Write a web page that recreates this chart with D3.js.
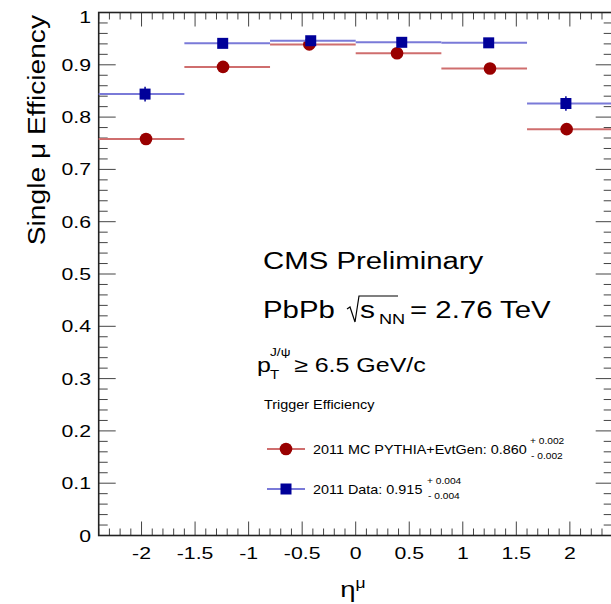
<!DOCTYPE html>
<html>
<head>
<meta charset="utf-8">
<script src="https://cdn.jsdelivr.net/npm/d3@7"></script>
<style>
  html, body { margin: 0; padding: 0; background: #fff; }
  svg { display: block; }
  text { font-family: "Liberation Sans", Arial, Helvetica, sans-serif; fill: #000; }
</style>
</head>
<body>
<svg id="chart" width="611" height="604"></svg>
<script>
// Pseudorapidity bins shared by both efficiency curves
const etaEdges = [-2.4, -1.6, -0.8, 0.0, 0.8, 1.6, 2.4];

// 2011 data (tag and probe), mean eta of each bin
const dataEta = [-1.967, -1.242, -0.420, 0.430, 1.242, 1.963];
const dataEff = [0.844, 0.941, 0.946, 0.943, 0.942, 0.826];
const dataErr = [0.014, 0.004, 0.004, 0.004, 0.004, 0.014];

// 2011 MC PYTHIA+EvtGen
const mcEta = [-1.958, -1.239, -0.433, 0.386, 1.254, 1.970];
const mcEff = [0.758, 0.896, 0.939, 0.922, 0.893, 0.777];
const mcErr = [0.003, 0.002, 0.002, 0.002, 0.002, 0.003];

// Axis ticks
const xMajor = [-2, -1.5, -1, -0.5, 0, 0.5, 1, 1.5, 2];
const xTickLabels = ["-2", "-1.5", "-1", "-0.5", "0", "0.5", "1", "1.5", "2"];
const yMajor = [0, 0.1, 0.2, 0.3, 0.4, 0.5, 0.6, 0.7, 0.8, 0.9, 1];
const yTickLabels = ["0", "0.1", "0.2", "0.3", "0.4", "0.5", "0.6", "0.7", "0.8", "0.9", "1"];

// Legend entries
const legendTitle = "Trigger Efficiency";
const legendMC = { text: "2011 MC PYTHIA+EvtGen: 0.860", up: "+ 0.002", down: "- 0.002" };
const legendData = { text: "2011 Data: 0.915", up: "+ 0.004", down: "- 0.004" };

const svg = d3.select("#chart");
const SX = 1.25; // horizontal stretch of the plot's typeface

const x = d3.scaleLinear().domain([-2.4, 2.4]).range([98.7, 612.7]);
const y = d3.scaleLinear().domain([0, 1]).range([535.5, 12.5]);

const blueLine = "#7a7ad8", blueMark = "#000099";
const redLine = "#cf6e6e", redMark = "#990000";

// text helper with horizontal stretch
function label(g, px, py, str, size, anchor, sx) {
  return g.append("text")
    .attr("transform", `translate(${px},${py}) scale(${sx || SX},1)`)
    .attr("font-size", size)
    .attr("text-anchor", anchor || "start")
    .text(str);
}

// ---- axes: ticks on all four sides
const axisG = svg.append("g");
const xMinor = d3.range(-24, 25).map(v => v / 10);
const yMinor = d3.range(0, 51).map(v => v / 50);

function isMajorX(v) { return Math.abs(v * 2 - Math.round(v * 2)) < 1e-6; }
function isMajorY(v) { return Math.abs(v * 10 - Math.round(v * 10)) < 1e-6; }

xMinor.forEach(v => {
  const len = isMajorX(v) ? 14 : 7;
  axisG.append("line").attr("x1", x(v)).attr("x2", x(v))
    .attr("y1", y(0)).attr("y2", y(0) - len).attr("stroke", "#444").attr("stroke-width", 1);
  axisG.append("line").attr("x1", x(v)).attr("x2", x(v))
    .attr("y1", y(1)).attr("y2", y(1) + len).attr("stroke", "#444").attr("stroke-width", 1);
});
yMinor.forEach(v => {
  const len = isMajorY(v) ? 17 : 9;
  axisG.append("line").attr("x1", x(-2.4)).attr("x2", x(-2.4) + len)
    .attr("y1", y(v)).attr("y2", y(v)).attr("stroke", "#444").attr("stroke-width", 1);
  axisG.append("line").attr("x1", x(2.4)).attr("x2", x(2.4) - len)
    .attr("y1", y(v)).attr("y2", y(v)).attr("stroke", "#444").attr("stroke-width", 1);
});
// frame
axisG.append("rect")
  .attr("x", x(-2.4)).attr("y", y(1))
  .attr("width", x(2.4) - x(-2.4)).attr("height", y(0) - y(1))
  .attr("fill", "none").attr("stroke", "#222").attr("stroke-width", 1.6);

// tick labels
xMajor.forEach((v, i) => label(axisG, x(v), 559, xTickLabels[i], 17, "middle"));
yMajor.forEach((v, i) => {
  const off = v === 1 ? 4 : 0;
  label(axisG, 91, y(v) + 6 + off, yTickLabels[i], 17, "end");
});

// axis titles
const xt = axisG.append("text")
  .attr("transform", `translate(353,597) scale(${SX},1)`)
  .attr("text-anchor", "middle").attr("font-size", 22);
xt.append("tspan").text("\u03b7");
xt.append("tspan").attr("dy", -9).attr("font-size", 14).text("\u03bc");

axisG.append("text")
  .attr("transform", `translate(45,15) rotate(-90) scale(1.15,1)`)
  .attr("text-anchor", "end").attr("font-size", 24.5)
  .text("Single \u03bc Efficiency");

// ---- data series
function drawSeries(etaArr, effArr, errArr, lineColor, markColor, shape) {
  const g = svg.append("g");
  g.selectAll("line.h").data(effArr).enter().append("line")
    .attr("x1", (d, i) => x(etaEdges[i])).attr("x2", (d, i) => x(etaEdges[i + 1]))
    .attr("y1", d => y(d)).attr("y2", d => y(d))
    .attr("stroke", lineColor).attr("stroke-width", 2);
  g.selectAll("line.v").data(effArr).enter().append("line")
    .attr("x1", (d, i) => x(etaArr[i])).attr("x2", (d, i) => x(etaArr[i]))
    .attr("y1", (d, i) => y(d + errArr[i])).attr("y2", (d, i) => y(d - errArr[i]))
    .attr("stroke", markColor).attr("stroke-width", 1.5);
  if (shape === "square") {
    g.selectAll("rect").data(effArr).enter().append("rect")
      .attr("x", (d, i) => x(etaArr[i]) - 5.5).attr("y", d => y(d) - 5.5)
      .attr("width", 11).attr("height", 11).attr("fill", markColor);
  } else {
    g.selectAll("circle").data(effArr).enter().append("circle")
      .attr("cx", (d, i) => x(etaArr[i])).attr("cy", d => y(d))
      .attr("r", 6.3).attr("fill", markColor);
  }
}
drawSeries(mcEta, mcEff, mcErr, redLine, redMark, "circle");
drawSeries(dataEta, dataEff, dataErr, blueLine, blueMark, "square");

// ---- header text
const tg = svg.append("g");
label(tg, 263, 269, "CMS Preliminary", 23.5);
label(tg, 263, 318, "PbPb", 23.5);
tg.append("path")
  .attr("d", "M347,309 L350,307 L355,322 L359,296 L398,296")
  .attr("fill", "none").attr("stroke", "#000").attr("stroke-width", 1.2);
label(tg, 360, 318, "s", 24);
label(tg, 379, 324, "NN", 14.5);
label(tg, 410, 318, "= 2.76 TeV", 23.5);

label(tg, 257, 372, "p", 20);
label(tg, 270, 379, "T", 12);
label(tg, 270, 356, "J/\u03c8", 11);
label(tg, 294, 372, "\u2265 6.5 GeV/c", 20);

// ---- legend
const lg = svg.append("g");
const LSX = 1.2;
label(lg, 264, 409, legendTitle, 12, "start", LSX);

function legendRow(py, entry, lineColor, markColor, shape, supX) {
  lg.append("line").attr("x1", 267).attr("x2", 305).attr("y1", py).attr("y2", py)
    .attr("stroke", lineColor).attr("stroke-width", 2);
  if (shape === "square") {
    lg.append("rect").attr("x", 286 - 5.5).attr("y", py - 5.5)
      .attr("width", 11).attr("height", 11).attr("fill", markColor);
  } else {
    lg.append("circle").attr("cx", 286).attr("cy", py).attr("r", 6.3).attr("fill", markColor);
  }
  label(lg, 313, py + 4.5, entry.text, 12, "start", LSX);
  label(lg, supX, py - 5, entry.up, 8.5, "start", LSX);
  label(lg, supX + 1, py + 10, entry.down, 8.5, "start", LSX);
}
legendRow(449, legendMC, redLine, redMark, "circle", 530);
legendRow(489, legendData, blueLine, blueMark, "square", 427);
</script>
</body>
</html>
